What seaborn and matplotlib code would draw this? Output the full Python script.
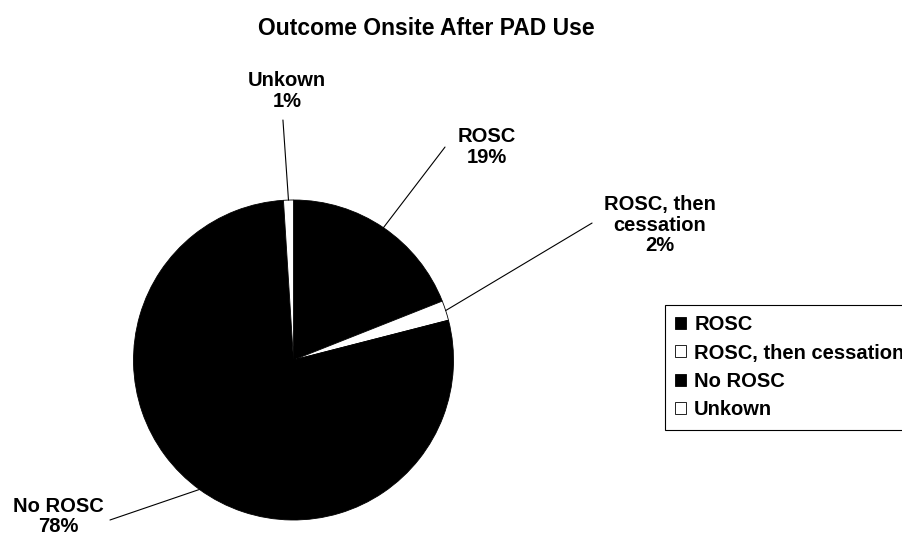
import numpy as np
import matplotlib
matplotlib.use('Agg')
import matplotlib.pyplot as plt
import seaborn as sns

# data (percent of PAD uses)
outcomes = ['ROSC', 'ROSC, then cessation', 'No ROSC', 'Unkown']
label_names = ['ROSC', 'ROSC, then\ncessation', 'No ROSC', 'Unkown']
shares = [19, 2, 78, 1]
slice_colors = ['black', 'white', 'black', 'white']

# label layout, in pie-radius units (centre of text block, start of leader line)
label_pos = [(1.206, 1.331), (2.291, 0.841), (-1.472, -0.978), (-0.04, 1.68)]
leader_start = [(0.947, 1.331), (1.866, 0.856), (-1.147, -1.0), (-0.066, 1.5)]

sns.set_theme(style='white')
plt.rcParams['font.family'] = ['Liberation Sans', 'DejaVu Sans']
plt.rcParams['font.weight'] = 'bold'
plt.rcParams['text.color'] = 'black'

fig = plt.figure(figsize=(9.02, 5.4), dpi=100)
ax = fig.add_axes([0, 0, 1, 1])

wedges, _ = ax.pie(shares, colors=slice_colors, startangle=90, counterclock=False,
                   radius=1, wedgeprops=dict(edgecolor='black', linewidth=0.6))

# pie centre sits at (293.5, 360) px with a 160 px radius
scale = 160.0
ax.set_xlim(-293.5 / scale, (902 - 293.5) / scale)
ax.set_ylim((360 - 540) / scale, 360 / scale)
ax.set_aspect('auto')
ax.axis('off')

total = sum(shares)
for w, name, share, pos, start in zip(wedges, label_names, shares, label_pos, leader_start):
    mid = np.deg2rad((w.theta1 + w.theta2) / 2)
    edge = (np.cos(mid), np.sin(mid))
    ax.annotate('', xy=edge, xytext=start,
                arrowprops=dict(arrowstyle='-', color='black', lw=0.8,
                                shrinkA=0, shrinkB=0))
    ax.text(pos[0], pos[1], f'{name}\n{round(100 * share / total)}%',
            ha='center', va='center', multialignment='center', color='black',
            fontsize=14.5, fontweight='bold', linespacing=1.1)

fig.text(426.5 / 902, 1 - 35 / 540, 'Outcome Onsite After PAD Use', color='black',
         ha='center', va='baseline', fontsize=16.5, fontweight='bold')

# legend runs off the right edge, as in the original
leg = ax.legend(wedges, outcomes, loc='upper left',
                bbox_to_anchor=(665 / 902, 1 - 305 / 540), bbox_transform=fig.transFigure,
                borderaxespad=0, fancybox=False, framealpha=1, edgecolor='black',
                prop=dict(size=14.5, weight='bold'), handlelength=0.55, handleheight=0.55,
                handletextpad=0.4, borderpad=0.5, labelspacing=0.47)
leg.get_frame().set_linewidth(0.8)
for t in leg.get_texts():
    t.set_color('black')

fig.savefig('out.png', dpi=100)
